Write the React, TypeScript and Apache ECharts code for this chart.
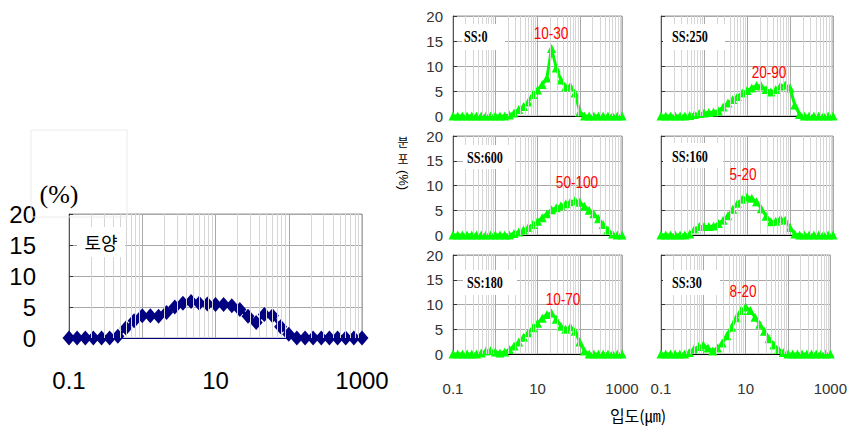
import React, { useEffect, useRef } from 'react';
import * as echarts from 'echarts';

// particle size classes (µm), log axis
const SIZES = [0.1, 0.129, 0.167, 0.215, 0.278, 0.359, 0.464, 0.599, 0.774, 1, 1.29, 1.67, 2.15, 2.78, 3.59, 4.64, 5.99, 7.74, 10, 12.9, 16.7, 21.5, 27.8, 35.9, 46.4, 59.9, 77.4, 100, 129, 167, 215, 278, 359, 464, 599, 774, 1000];

const SOIL = [0, 0, 0, 0, 0, 0, 0.3, 1.6, 2.8, 3.6, 3.6, 3.5, 4.1, 5.0, 5.6, 5.9, 5.6, 5.5, 5.4, 5.4, 5.2, 4.6, 3.5, 2.5, 3.8, 3.6, 1.8, 0.6, 0, 0, 0, 0, 0, 0, 0, 0, 0];
const SS0 = [0, 0, 0, 0, 0, 0, 0, 0, 0, 0, 0, 0, 0.2, 0.6, 1.3, 1.9, 2.8, 4.3, 5.2, 6.3, 7.6, 13.5, 9.6, 7.2, 5.8, 6.0, 4.6, 0.8, 0, 0, 0, 0, 0, 0, 0, 0, 0];
const SS250 = [0, 0, 0, 0, 0, 0, 0.1, 0.3, 0.5, 0.6, 0.7, 0.8, 1.0, 1.8, 2.6, 3.3, 3.9, 4.6, 5.1, 5.6, 6.1, 6.0, 5.3, 4.8, 5.3, 6.0, 6.2, 5.6, 2.2, 0.3, 0, 0, 0, 0, 0, 0, 0];
const SS600 = [0, 0, 0, 0, 0, 0, 0, 0, 0, 0, 0, 0, 0, 0.3, 0.6, 1.0, 1.5, 2.1, 2.8, 3.5, 4.3, 5.1, 5.5, 5.9, 6.3, 6.7, 7.0, 6.6, 5.8, 5.0, 4.3, 3.3, 2.1, 1.0, 0.2, 0, 0];
const SS160 = [0, 0, 0, 0, 0, 0, 0.2, 1.2, 1.7, 1.7, 1.7, 1.8, 2.3, 3.0, 3.9, 5.2, 6.4, 7.2, 7.7, 7.4, 6.7, 5.3, 3.8, 2.7, 2.8, 3.3, 3.0, 1.5, 0.2, 0, 0, 0, 0, 0, 0, 0, 0];
const SS180 = [0, 0, 0, 0, 0, 0, 0.2, 0.6, 0.7, 0.4, 0.2, 0.4, 0.9, 1.6, 2.4, 3.4, 4.3, 5.3, 6.2, 7.2, 8.0, 8.3, 7.0, 5.6, 5.0, 5.5, 4.6, 2.4, 0.6, 0, 0, 0, 0, 0, 0, 0, 0];
const SS30 = [0, 0, 0, 0, 0, 0, 0.3, 1.0, 1.5, 1.8, 1.2, 0.6, 1.2, 2.2, 3.7, 5.4, 7.3, 8.8, 9.5, 8.8, 7.4, 6.0, 4.6, 3.1, 1.8, 0.9, 0.3, 0, 0, 0, 0, 0, 0, 0, 0, 0, 0];

const PANEL_NAMES = ['SS:0', 'SS:250', 'SS:600', 'SS:160', 'SS:180', 'SS:30'];
const PANEL_RANGES = ['10-30', '20-90', '50-100', '5-20', '10-70', '8-20'];
const PANEL_VALUES = [SS0, SS250, SS600, SS160, SS180, SS30];

const Y_TICKS = [0, 5, 10, 15, 20];
const X_LABELS = ['0.1', '10', '1000'];
const Y_TITLE_WORD = '분포';
const Y_TITLE_UNIT = '(%)';
const X_TITLE = '입도(㎛)';

// layout (pixels)
const PANEL_GRIDS = [
  { left: 453, top: 16, width: 169, height: 100 },
  { left: 661, top: 16, width: 172, height: 100 },
  { left: 453, top: 136, width: 169, height: 99 },
  { left: 661, top: 136, width: 172, height: 99 },
  { left: 453, top: 255, width: 169, height: 99 },
  { left: 661, top: 255, width: 172, height: 99 },
];
const NAME_BOXES = [
  { x: 462, y: 24, w: 43, h: 26, tx: 464, ty: 36 },
  { x: 663, y: 24, w: 62, h: 26, tx: 672, ty: 36 },
  { x: 463, y: 145, w: 52, h: 24, tx: 467, ty: 157 },
  { x: 663, y: 143, w: 60, h: 25, tx: 672, ty: 156 },
  { x: 463, y: 270, w: 54, h: 25, tx: 467, ty: 282 },
  { x: 663, y: 270, w: 57, h: 25, tx: 672, ty: 282 },
];
const RANGE_POS = [
  [551, 34], [769, 73], [577, 183], [743, 175], [563, 300], [743, 292],
];

const MINOR: number[] = [];
[0.1, 1, 10, 100].forEach((d) => {
  for (let m = 2; m <= 9; m++) MINOR.push(+(d * m).toPrecision(3));
});

const labelFormatter = (v: number) => {
  const s = String(+v.toPrecision(3));
  return X_LABELS.indexOf(s) >= 0 ? s : '';
};

export default function App() {
  const ref = useRef<HTMLDivElement>(null);
  useEffect(() => {
    if (!ref.current) return;
    const chart = echarts.init(ref.current, undefined, { renderer: 'svg' });

    const grids: any[] = [];
    const xAxes: any[] = [];
    const yAxes: any[] = [];
    const series: any[] = [];
    const graphic: any[] = [];

    const addPanel = (
      g: any,
      values: number[],
      opts: { big: boolean; showX: boolean; showY: boolean; color: string; symbol: string; symbolSize: any; lineWidth: number }
    ) => {
      const idx = grids.length;
      grids.push({ ...g, show: true, borderColor: '#9a9a9a', borderWidth: 1, backgroundColor: 'transparent' });
      xAxes.push({
        type: 'log',
        logBase: 10,
        gridIndex: idx,
        min: 0.1,
        max: 1000,
        axisLine: { show: true, onZero: false, lineStyle: { color: opts.big ? '#000080' : '#000', width: 1 } },
        axisTick: { show: false },
        axisLabel: {
          show: opts.showX,
          formatter: labelFormatter,
          showMinLabel: true,
          showMaxLabel: true,
          fontSize: opts.big ? 24 : 15,
          fontFamily: 'Liberation Sans',
          color: opts.big ? '#000' : '#333',
          margin: opts.big ? 30 : 27,
        },
        splitLine: { show: true, lineStyle: { color: '#a8a8a8', width: 1 } },
      });
      yAxes.push({
        type: 'value',
        gridIndex: idx,
        min: Y_TICKS[0],
        max: Y_TICKS[Y_TICKS.length - 1],
        interval: Y_TICKS[1] - Y_TICKS[0],
        axisLine: { show: true, lineStyle: { color: '#555', width: 1 } },
        axisTick: { show: true, inside: true, length: 4, lineStyle: { color: '#333' } },
        axisLabel: {
          show: opts.showY,
          fontSize: opts.big ? 24 : 15,
          fontFamily: 'Liberation Sans',
          color: opts.big ? '#000' : '#333',
          margin: opts.big ? 33 : 10,
        },
        splitLine: { show: true, lineStyle: { color: '#a8a8a8', width: 1 } },
      });
      series.push({
        type: 'line',
        xAxisIndex: idx,
        yAxisIndex: idx,
        data: [[SIZES[0], 0]],
        showSymbol: false,
        lineStyle: { width: 0, opacity: 0 },
        silent: true,
        z: 1,
        markLine: {
          silent: true,
          symbol: ['none', 'none'],
          label: { show: false },
          animation: false,
          lineStyle: { type: 'solid', color: '#d6d6d6', width: 1 },
          emphasis: { disabled: true },
          data: MINOR.map((v) => ({ xAxis: v })),
        },
      });
      series.push({
        type: 'line',
        xAxisIndex: idx,
        yAxisIndex: idx,
        data: SIZES.map((s, i) => [s, values[i]]),
        symbol: opts.symbol,
        symbolSize: opts.symbolSize,
        showAllSymbol: true,
        clip: false,
        z: 3,
        itemStyle: { color: opts.color },
        lineStyle: { color: opts.color, width: opts.lineWidth },
      });
    };

    // left soil chart
    addPanel({ left: 69, top: 214, width: 293, height: 124 }, SOIL, {
      big: true, showX: true, showY: true, color: '#000080', symbol: 'diamond', symbolSize: [13, 15], lineWidth: 3,
    });
    PANEL_VALUES.forEach((vals, i) => {
      addPanel(PANEL_GRIDS[i], vals, {
        big: false,
        showX: i >= 4,
        showY: i % 2 === 0,
        color: '#00ff00',
        symbol: 'triangle',
        symbolSize: [9, 9],
        lineWidth: 3,
      });
    });

    // annotations
    graphic.push({
      type: 'rect', shape: { x: 31, y: 130, width: 96, height: 87 },
      style: { fill: 'none', stroke: '#ececec', lineWidth: 1 }, z: 10,
    });
    graphic.push({
      type: 'text', x: 59, y: 194,
      style: { text: '(%)', fontSize: 26, fontFamily: 'Liberation Serif', fill: '#000', textAlign: 'center', textVerticalAlign: 'middle' },
      z: 11,
    });
    graphic.push({
      type: 'rect', shape: { x: 77, y: 227, width: 48, height: 30 },
      style: { fill: '#fff', stroke: 'none' }, z: 10,
    });
    graphic.push({
      type: 'text', x: 101, y: 242,
      style: { text: '토양', fontSize: 18, fontFamily: 'Noto Sans CJK KR', fill: '#000', textAlign: 'center', textVerticalAlign: 'middle' },
      z: 11,
    });
    PANEL_NAMES.forEach((name, i) => {
      const b = NAME_BOXES[i];
      graphic.push({
        type: 'rect', shape: { x: b.x, y: b.y, width: b.w, height: b.h },
        style: { fill: '#fff', stroke: 'none' }, z: 10,
      });
      graphic.push({
        type: 'text', x: b.tx, y: b.ty, scaleX: 0.76,
        style: { text: name, fontSize: 16, fontWeight: 'bold', fontFamily: 'Liberation Serif', fill: '#000', textAlign: 'left', textVerticalAlign: 'middle' },
        z: 11,
      });
      const [rx, ry] = RANGE_POS[i];
      graphic.push({
        type: 'text', x: rx, y: ry, scaleX: 0.85,
        style: { text: PANEL_RANGES[i], fontSize: 16, fontFamily: 'Liberation Sans', fill: '#ff0000', textAlign: 'center', textVerticalAlign: 'middle' },
        z: 11,
      });
    });
    // vertical y-axis title: stacked Korean characters + unit turned clockwise
    graphic.push({
      type: 'text', x: 403, y: 150,
      style: {
        text: Y_TITLE_WORD.split('').join('\n'),
        fontSize: 12, lineHeight: 17.5, fontFamily: 'Noto Sans CJK KR', fill: '#000',
        textAlign: 'center', textVerticalAlign: 'middle',
      },
      z: 11,
    });
    graphic.push({
      type: 'text', x: 403, y: 180, rotation: -Math.PI / 2,
      style: { text: Y_TITLE_UNIT, fontSize: 13, fontFamily: 'Liberation Sans', fill: '#000', textAlign: 'center', textVerticalAlign: 'middle' },
      z: 11,
    });
    graphic.push({
      type: 'text', x: 638, y: 415,
      style: { text: X_TITLE, fontSize: 16, fontFamily: 'Noto Sans CJK KR', fill: '#000', textAlign: 'center', textVerticalAlign: 'middle' },
      z: 11,
    });

    chart.setOption({
      animation: false,
      grid: grids,
      xAxis: xAxes,
      yAxis: yAxes,
      series,
      graphic,
    });
    return () => chart.dispose();
  }, []);
  return (
    <div
      ref={ref}
      style={{ position: 'fixed', left: 0, top: 0, width: 850, height: 428, background: '#fff' }}
    />
  );
}
